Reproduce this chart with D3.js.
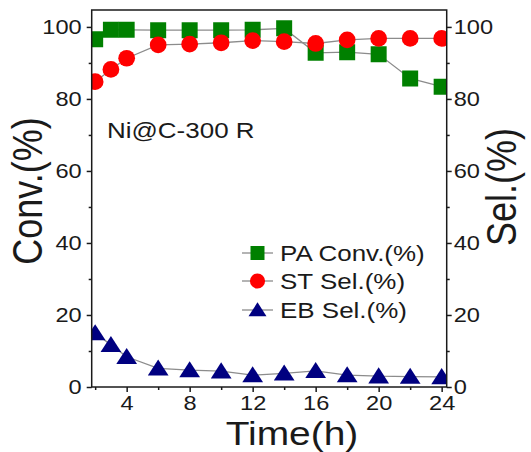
<!DOCTYPE html>
<html>
<head>
<meta charset="utf-8">
<script src="https://cdn.jsdelivr.net/npm/d3@7"></script>
<style>
  html, body { margin: 0; padding: 0; background: #fff; }
  svg { display: block; font-family: "Liberation Sans", Arial, sans-serif; }
</style>
</head>
<body>
<svg id="chart" width="531" height="452"></svg>
<script>
// Reaction time (h)
const hours = [2, 3, 4, 6, 8, 10, 12, 14, 16, 18, 20, 22, 24];
// Phenylacetylene conversion (%)
const paConv = [96.6, 99.2, 99.2, 99.1, 99.1, 99.1, 99.2, 99.6, 92.8, 93.0, 92.4, 85.7, 83.4];
// Styrene selectivity (%)
const stSel = [84.8, 88.2, 91.3, 95.0, 95.2, 95.6, 96.2, 95.9, 95.4, 96.4, 96.8, 96.8, 96.8];
// Ethylbenzene selectivity (%)
const ebSel = [15.0, 11.7, 8.4, 5.2, 4.7, 4.4, 3.3, 3.8, 4.5, 3.3, 3.0, 2.9, 2.8];

const xTicks = [4, 8, 12, 16, 20, 24];
const xMinor = [2, 6, 10, 14, 18, 22];
const yTicks = [0, 20, 40, 60, 80, 100];
const yMinor = [10, 30, 50, 70, 90];

// marker shapes: square, circle and a flat triangle
const triangle = {
  draw(ctx, size) {
    const w = Math.sqrt(size) * 0.58, h = Math.sqrt(size) * 0.9;
    ctx.moveTo(0, -h * 0.55);
    ctx.lineTo(w, h * 0.45);
    ctx.lineTo(-w, h * 0.45);
    ctx.closePath();
  }
};

const series = [
  { name: "PA Conv.(%)", values: paConv, color: "#008000", symbol: d3.symbolSquare, size: 256 },
  { name: "ST Sel.(%)",  values: stSel,  color: "#ff0000", symbol: d3.symbolCircle, size: 220 },
  { name: "EB Sel.(%)",  values: ebSel,  color: "#000080", symbol: triangle, size: 320 }
];

const svg = d3.select("#chart");
const L = 91.7, R = 446.7, T = 10, B = 387;
const x = d3.scaleLinear().domain([1.78, 24.32]).range([L, R]);
const y = d3.scaleLinear().domain([0, 104.7]).range([B, T]);
const ink = "#1a1a1a";
const STRETCH = 1.18;

// widen horizontal text glyphs while keeping their anchor point
function widen(sel) {
  sel.each(function () {
    const len = this.getComputedTextLength();
    d3.select(this).attr("textLength", len * STRETCH).attr("lengthAdjust", "spacingAndGlyphs");
  });
}

svg.append("defs").append("clipPath").attr("id", "plotClip")
  .append("rect").attr("x", L).attr("y", T).attr("width", R - L).attr("height", B - T);

const plot = svg.append("g").attr("clip-path", "url(#plotClip)");

// connecting lines
const line = d3.line().x((d, i) => x(hours[i])).y(d => y(d));
series.forEach(s => {
  plot.append("path").datum(s.values)
    .attr("fill", "none").attr("stroke", "#8c8c8c").attr("stroke-width", 1.3)
    .attr("d", line);
});

// markers
series.forEach(s => {
  const sym = d3.symbol().type(s.symbol).size(s.size);
  plot.append("g").selectAll("path").data(s.values).join("path")
    .attr("transform", (d, i) => `translate(${x(hours[i])},${y(d)})`)
    .attr("d", sym)
    .attr("fill", s.color);
});

// frame
svg.append("rect").attr("x", L).attr("y", T).attr("width", R - L).attr("height", B - T)
  .attr("fill", "none").attr("stroke", ink).attr("stroke-width", 1.5);

// axes
function styleAxis(g) {
  g.select(".domain").remove();
  g.selectAll("line").attr("stroke", ink).attr("stroke-width", 1.5);
  g.selectAll("text").attr("fill", ink).attr("font-size", 20)
    .attr("font-family", "'Liberation Sans', Arial, sans-serif")
    .call(widen);
}

svg.append("g").attr("transform", `translate(0,${B})`)
  .call(d3.axisBottom(x).tickValues(xTicks).tickSize(5).tickPadding(4).tickFormat(d3.format("d")))
  .call(styleAxis);
svg.append("g").attr("transform", `translate(0,${B})`)
  .call(d3.axisBottom(x).tickValues(xMinor).tickSize(3).tickFormat(""))
  .call(styleAxis);

svg.append("g").attr("transform", `translate(${L},0)`)
  .call(d3.axisLeft(y).tickValues(yTicks).tickSize(5).tickPadding(5).tickFormat(d3.format("d")))
  .call(styleAxis);
svg.append("g").attr("transform", `translate(${L},0)`)
  .call(d3.axisLeft(y).tickValues(yMinor).tickSize(3).tickFormat(""))
  .call(styleAxis);

svg.append("g").attr("transform", `translate(${R},0)`)
  .call(d3.axisRight(y).tickValues(yTicks).tickSize(5).tickPadding(2).tickFormat(d3.format("d")))
  .call(styleAxis);
svg.append("g").attr("transform", `translate(${R},0)`)
  .call(d3.axisRight(y).tickValues(yMinor).tickSize(3).tickFormat(""))
  .call(styleAxis);

// axis titles
svg.append("text").attr("transform", `translate(42,191) scale(${STRETCH},1) rotate(-90)`)
  .attr("text-anchor", "middle").attr("font-size", 36).attr("fill", ink).text("Conv.(%)");
svg.append("text").attr("transform", `translate(516,187) scale(${STRETCH},1) rotate(-90)`)
  .attr("text-anchor", "middle").attr("font-size", 36).attr("fill", ink).text("Sel.(%)");
svg.append("text").attr("x", 292).attr("y", 445)
  .attr("text-anchor", "middle").attr("font-size", 33).attr("fill", ink).text("Time(h)")
  .call(widen);

// sample label
svg.append("text").attr("x", 107).attr("y", 138)
  .attr("font-size", 22).attr("fill", ink).text("Ni@C-300 R")
  .call(widen);

// legend
const legend = svg.append("g");
const rowY = [253, 281, 310];
const legendSize = [196, 180, 240];
series.forEach((s, i) => {
  const g = legend.append("g").attr("transform", `translate(0,${rowY[i]})`);
  g.append("line").attr("x1", 242).attr("x2", 273).attr("y1", 0).attr("y2", 0)
    .attr("stroke", "#8c8c8c").attr("stroke-width", 1.3);
  g.append("path").attr("transform", "translate(257.5,0)")
    .attr("d", d3.symbol().type(s.symbol).size(legendSize[i])).attr("fill", s.color);
  g.append("text").attr("x", 280).attr("y", 8)
    .attr("font-size", 22).attr("fill", ink).text(s.name)
    .call(widen);
});
</script>
</body>
</html>
